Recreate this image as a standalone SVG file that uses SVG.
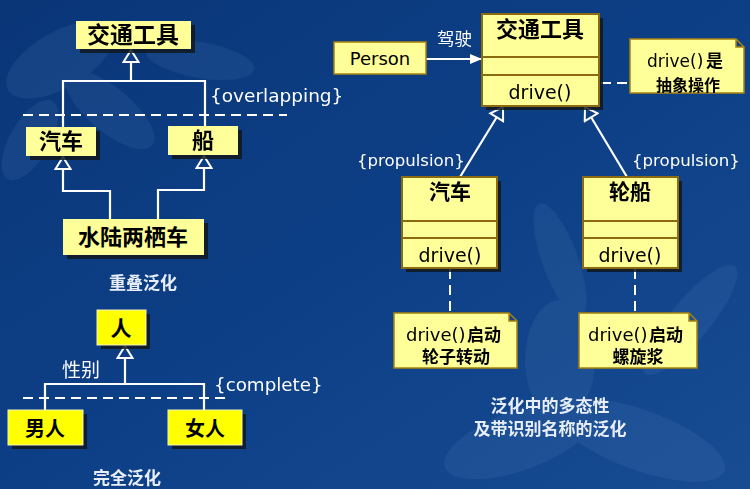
<svg xmlns="http://www.w3.org/2000/svg" width="750" height="489" viewBox="0 0 750 489">
<defs>
<linearGradient id="bg" x1="0" y1="0" x2="1" y2="1">
<stop offset="0" stop-color="#0a3678"/>
<stop offset="0.5" stop-color="#0d3f86"/>
<stop offset="1" stop-color="#174c92"/>
</linearGradient>
<marker id="hollow" markerUnits="userSpaceOnUse" markerWidth="16" markerHeight="18" viewBox="0 0 16 18" refX="14" refY="9" orient="auto">
<path d="M2,1.5 L14,9 L2,16.5 Z" fill="#0d3d82" stroke="#ffffff" stroke-width="2" stroke-linejoin="miter"/>
</marker>
<marker id="solid" markerUnits="userSpaceOnUse" markerWidth="12" markerHeight="12" viewBox="0 0 12 12" refX="11" refY="6" orient="auto">
<path d="M0,1 L12,6 L0,11 Z" fill="#ffffff"/>
</marker>
<style>
.lbox{fill:#ffff99;}
.ybox{fill:#ffff00;stroke:#f0f0c0;stroke-width:1;}
.shadow{fill:#101820;opacity:0.85;}
.cls{fill:#ffff99;stroke:#8b6a10;stroke-width:2;}
.note{fill:#ffff99;stroke:#a8820e;stroke-width:1.5;}
.ln{fill:none;stroke:#ffffff;stroke-width:2.2;}
.dash{fill:none;stroke:#ffffff;stroke-width:2;stroke-dasharray:10 6;}
.cn{font-family:"Noto Sans CJK SC","Noto Sans",sans-serif;font-weight:bold;fill:#000;}
.lt{font-family:"DejaVu Sans","Noto Sans",sans-serif;fill:#000;}
.wt{font-family:"DejaVu Sans","Noto Sans",sans-serif;fill:#ffffff;}
.wc{font-family:"Noto Sans CJK SC",sans-serif;fill:#ffffff;}
.cap{font-family:"Noto Sans CJK SC",sans-serif;font-weight:bold;fill:#e8eef8;font-size:17px;}
</style>
</defs>
<rect x="0" y="0" width="750" height="489" fill="url(#bg)"/>
<g id="decor" fill="#6f96c8" opacity="0.12">
<ellipse cx="60" cy="60" rx="60" ry="28" transform="rotate(-30 60 60)"/>
<ellipse cx="110" cy="110" rx="55" ry="22" transform="rotate(40 110 110)"/>
<ellipse cx="30" cy="140" rx="45" ry="20" transform="rotate(-60 30 140)"/>
<ellipse cx="200" cy="60" rx="55" ry="18" transform="rotate(10 200 60)"/>
<ellipse cx="560" cy="260" rx="60" ry="18" transform="rotate(70 560 260)"/>
<ellipse cx="690" cy="320" rx="70" ry="20" transform="rotate(-50 690 320)"/>
<ellipse cx="520" cy="440" rx="80" ry="30" transform="rotate(-20 520 440)"/>
<ellipse cx="640" cy="440" rx="90" ry="30" transform="rotate(20 640 440)"/>
<ellipse cx="560" cy="360" rx="35" ry="60"/>
</g>
<g id="connectors">
<path class="ln" d="M131,81 V50" marker-end="url(#hollow)"/>
<path class="ln" d="M63,127 V81 H205 V127"/>
<path class="ln" d="M110,219 V191 H63 V157" marker-end="url(#hollow)"/>
<path class="ln" d="M158,219 V190 H204 V156" marker-end="url(#hollow)"/>
<path class="dash" d="M23,115 H287"/>
<path class="ln" d="M125,384 V346" marker-end="url(#hollow)"/>
<path class="ln" d="M45,410 V384 H204 V410"/>
<path class="dash" d="M23,398 H226"/>
<path class="ln" d="M426,59 H481" marker-end="url(#solid)"/>
<path class="dash" d="M601,83 H630"/>
<path class="ln" d="M460,177 L503,107" marker-end="url(#hollow)"/>
<path class="ln" d="M627,177 L585,107" marker-end="url(#hollow)"/>
<path class="dash" d="M450,269 V312"/>
<path class="dash" d="M635,269 V312"/>
</g>
<g id="labels">
<text class="wt" x="210" y="102" font-size="18.5">{overlapping}</text>
<text class="wt" x="214" y="391" font-size="18.3">{complete}</text>
<text class="wc" x="62" y="377" font-size="19">性别</text>
<text class="wc" x="437" y="45" font-size="17.5">驾驶</text>
<text class="wt" x="357" y="166" font-size="16.6">{propulsion}</text>
<text class="wt" x="632" y="166" font-size="16.6">{propulsion}</text>
<text class="cap" x="143" y="289" text-anchor="middle">重叠泛化</text>
<text class="cap" x="127" y="484" text-anchor="middle">完全泛化</text>
<text class="cap" x="550" y="412" text-anchor="middle">泛化中的多态性</text>
<text class="cap" x="550" y="435" text-anchor="middle">及带识别名称的泛化</text>
</g>
<g id="n_vehicle_l">
<rect class="shadow" x="80" y="25" width="115" height="28"/>
<rect class="lbox" x="76" y="21" width="115" height="28"/>
<text class="cn" x="133" y="43" font-size="23" text-anchor="middle">交通工具</text>
</g>
<g id="n_car_l">
<rect class="shadow" x="30" y="131" width="70" height="29"/>
<rect class="lbox" x="26" y="127" width="70" height="29"/>
<text class="cn" x="61" y="149" font-size="22" text-anchor="middle">汽车</text>
</g>
<g id="n_boat_l">
<rect class="shadow" x="172" y="130" width="70" height="29"/>
<rect class="lbox" x="168" y="126" width="70" height="29"/>
<text class="cn" x="203" y="148" font-size="22" text-anchor="middle">船</text>
</g>
<g id="n_amphib">
<rect class="shadow" x="67" y="223" width="141" height="36"/>
<rect class="lbox" x="63" y="219" width="141" height="36"/>
<text class="cn" x="133" y="245" font-size="22" text-anchor="middle">水陆两栖车</text>
</g>
<g id="n_person_cn">
<rect class="shadow" x="101" y="314" width="49" height="35"/>
<rect class="ybox" x="97" y="310" width="49" height="35"/>
<text class="cn" x="121" y="336" font-size="21" text-anchor="middle" font-weight="normal">人</text>
</g>
<g id="n_man">
<rect class="shadow" x="12" y="414" width="75" height="35"/>
<rect class="ybox" x="8" y="410" width="75" height="35"/>
<text class="cn" x="45" y="436" font-size="20" text-anchor="middle" font-weight="normal">男人</text>
</g>
<g id="n_woman">
<rect class="shadow" x="172" y="414" width="74" height="35"/>
<rect class="ybox" x="168" y="410" width="74" height="35"/>
<text class="cn" x="205" y="436" font-size="20" text-anchor="middle" font-weight="normal">女人</text>
</g>
<g id="n_person">
<rect class="lbox" x="334" y="42" width="92" height="32" stroke="#a8820e" stroke-width="1.5"/>
<text class="lt" x="380" y="65" font-size="18" text-anchor="middle">Person</text>
</g>
<g id="n_vehicle_r">
<rect class="shadow" x="486" y="18" width="117" height="92"/>
<rect class="cls" x="482" y="14" width="117" height="92"/>
<path d="M482,57 H599 M482,75 H599" stroke="#8b6a10" stroke-width="2"/>
<text class="cn" x="540" y="37" font-size="22" text-anchor="middle">交通工具</text>
<text class="lt" x="540" y="99" font-size="19" text-anchor="middle">drive()</text>
</g>
<g id="n_note_abs">
<path class="note" d="M630,39 H736 L744,47 V93 H630 Z M736,39 V47 H744"/>
<text class="lt" x="647" y="67" font-size="17">drive()</text>
<text class="cn" x="706" y="67" font-size="17">是</text>
<text class="cn" x="688" y="91" font-size="16" text-anchor="middle">抽象操作</text>
</g>
<g id="n_car_r">
<rect class="shadow" x="406" y="181" width="95" height="91"/>
<rect class="cls" x="402" y="177" width="95" height="91"/>
<path d="M402,221 H497 M402,238 H497" stroke="#8b6a10" stroke-width="2"/>
<text class="cn" x="450" y="199" font-size="21" text-anchor="middle">汽车</text>
<text class="lt" x="450" y="262" font-size="19" text-anchor="middle">drive()</text>
</g>
<g id="n_ship_r">
<rect class="shadow" x="587" y="181" width="95" height="91"/>
<rect class="cls" x="583" y="177" width="95" height="91"/>
<path d="M583,221 H678 M583,238 H678" stroke="#8b6a10" stroke-width="2"/>
<text class="cn" x="630" y="199" font-size="21" text-anchor="middle">轮船</text>
<text class="lt" x="630" y="262" font-size="19" text-anchor="middle">drive()</text>
</g>
<g id="n_note_car">
<path class="note" d="M394,313 H509 L517,321 V368 H394 Z M509,313 V321 H517"/>
<text class="lt" x="406" y="341" font-size="18">drive()</text>
<text class="cn" x="467" y="341" font-size="17">启动</text>
<text class="cn" x="456" y="363" font-size="17" text-anchor="middle">轮子转动</text>
</g>
<g id="n_note_ship">
<path class="note" d="M579,313 H689 L697,321 V368 H579 Z M689,313 V321 H697"/>
<text class="lt" x="588" y="341" font-size="18">drive()</text>
<text class="cn" x="649" y="341" font-size="17">启动</text>
<text class="cn" x="638" y="363" font-size="17" text-anchor="middle">螺旋浆</text>
</g>
</svg>
